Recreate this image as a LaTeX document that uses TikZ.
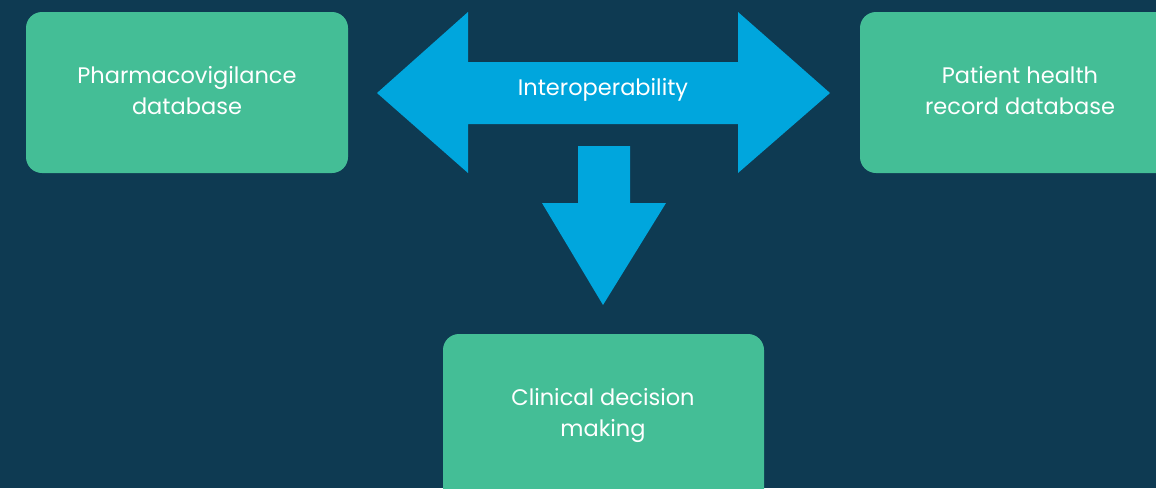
\documentclass[tikz,border=0pt]{standalone}
\usepackage{fontspec}
\setmainfont{Poppins}
\definecolor{bgc}{HTML}{0E3A52}
\definecolor{boxc}{HTML}{44BE96}
\definecolor{arrc}{HTML}{00A6DD}
\begin{document}
\begin{tikzpicture}[x=1pt,y=-1pt,
  boxstyle/.style={fill=boxc, rounded corners=16pt},
  lbl/.style={text=white, align=center, font=\fontsize{22.5}{31}\selectfont, inner sep=0pt},
  arrowshape/.style={fill=arrc}]
\useasboundingbox (0,0) rectangle (1156,488);
\clip (0,0) rectangle (1156,488);
\fill[bgc] (0,0) rectangle (1156,488);
% boxes
\fill[boxstyle] (26,12) rectangle (348,173);
\fill[boxstyle] (860,12) rectangle (1200,173);
\fill[boxstyle] (443,334) rectangle (764,520);
% arrows
\fill[arrowshape] (377,93) -- (468,12) -- (468,62) -- (738,62) -- (738,12) -- (830,93)
  -- (738,173) -- (738,124) -- (468,124) -- (468,173) -- cycle;
\fill[arrowshape] (578,146) -- (630,146) -- (630,203) -- (666,203) -- (603,305)
  -- (542,203) -- (578,203) -- cycle;
% labels
\node[lbl] (pv) at (187,91) {Pharmacovigilance\\database};
\node[lbl] (ph) at (1020,91) {Patient health\\record database};
\node[lbl] (cd) at (603,415) {Clinical decision\\making};
\node[lbl] (io) at (603,90) {Interoperability};
\end{tikzpicture}
\end{document}
